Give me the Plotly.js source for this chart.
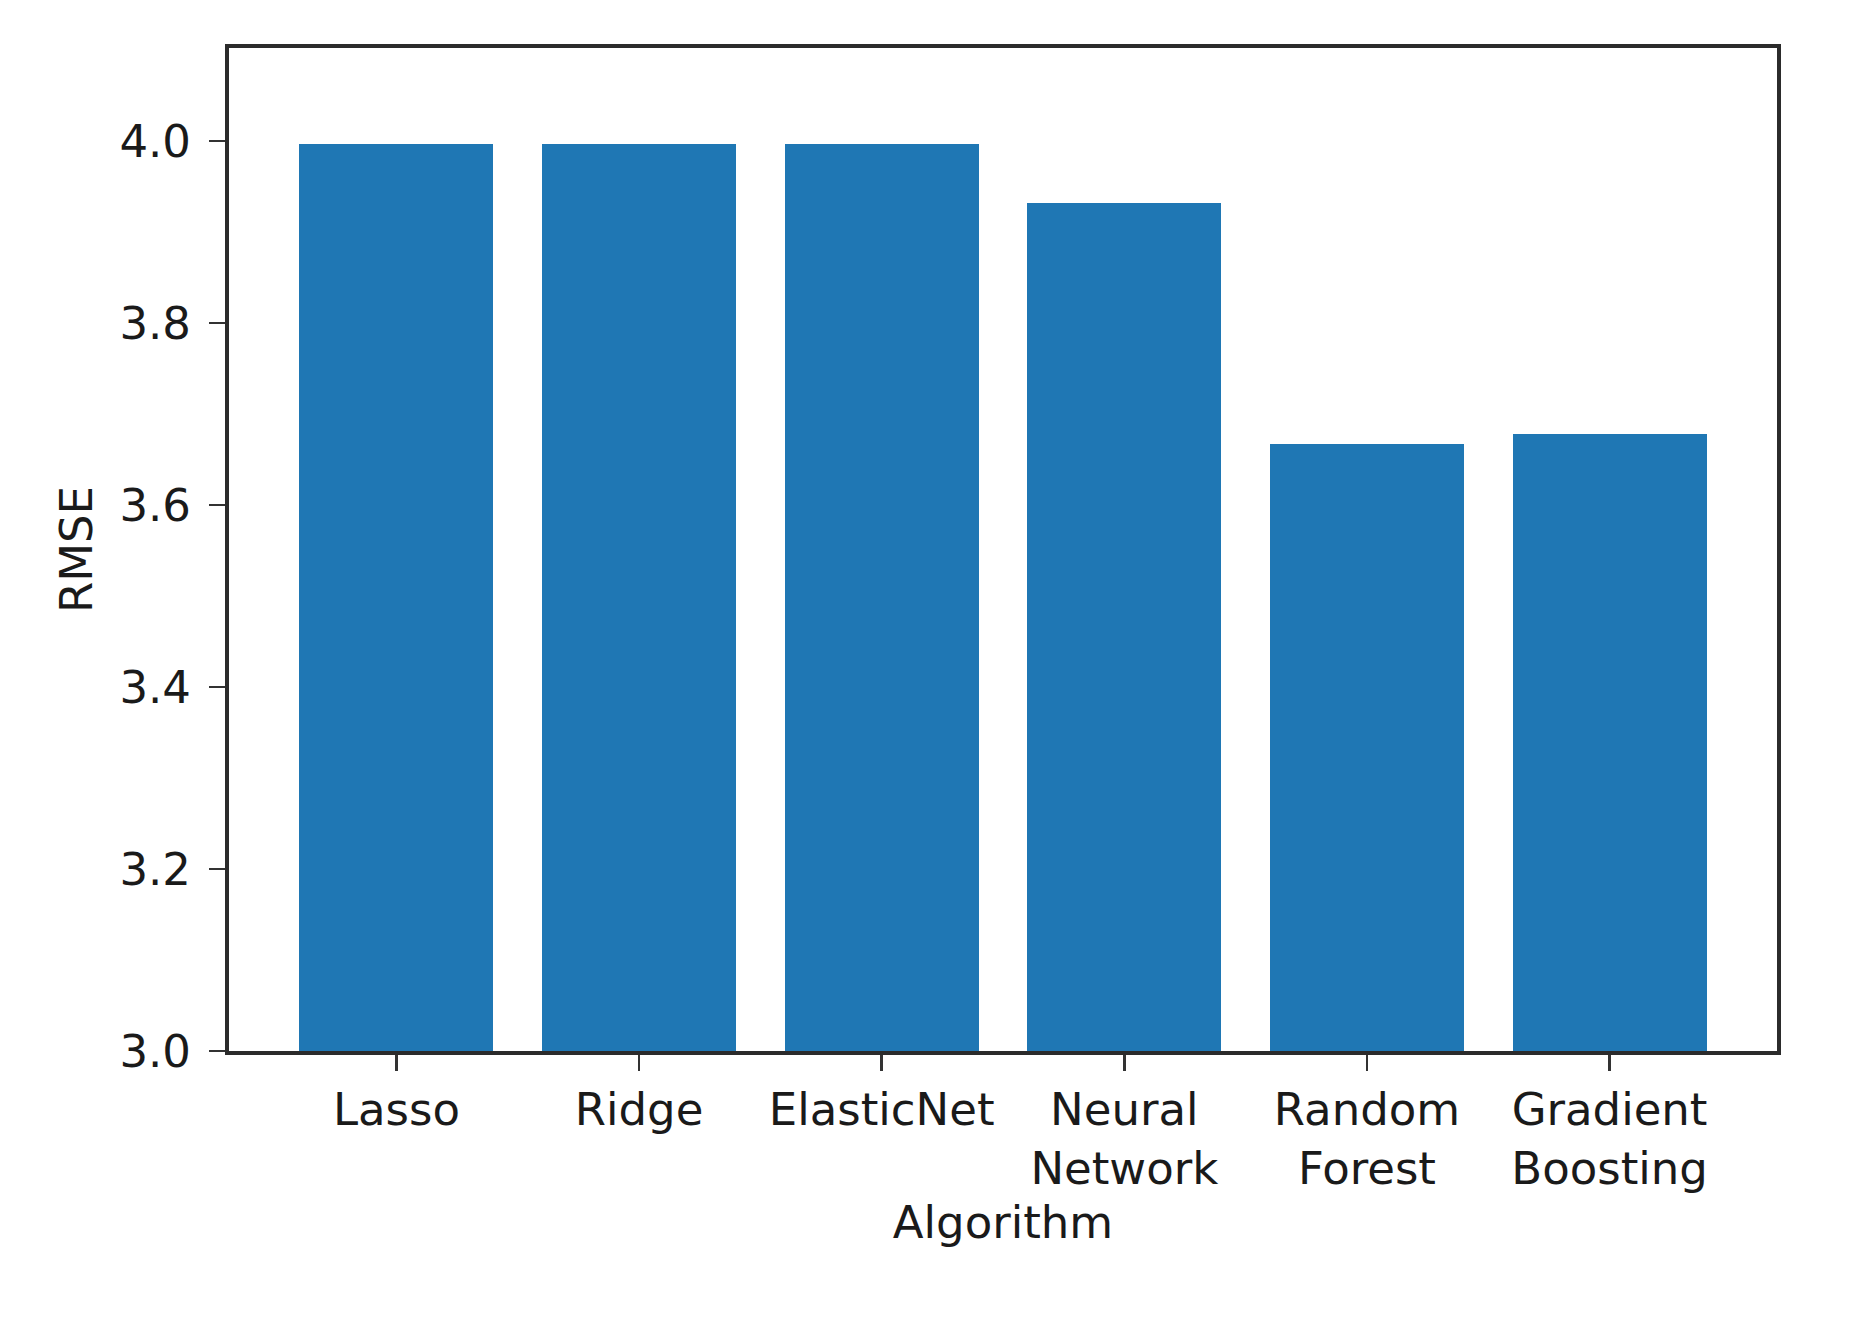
<!DOCTYPE html>
<html>
<head>
<meta charset="utf-8">
<script src="https://cdn.plot.ly/plotly-3.0.1.min.js"></script>
<style>html,body{margin:0;padding:0;background:#fff;}#chart{width:1860px;height:1338px;}</style>
</head>
<body>
<div id="chart"></div>
<script>
const algorithms = ["Lasso", "Ridge", "ElasticNet", "Neural<br>Network", "Random<br>Forest", "Gradient<br>Boosting"];
const rmse = [3.997, 3.997, 3.997, 3.932, 3.667, 3.678];
const yTicks = [3.0, 3.2, 3.4, 3.6, 3.8, 4.0];
const yTickLabels = ["3.0", "3.2", "3.4", "3.6", "3.8", "4.0"];

const xIdx = algorithms.map((_, i) => i);

const font = {family: "DejaVu Sans", size: 45, color: "#1a1a1a"};

Plotly.newPlot("chart", [{
  type: "bar",
  x: xIdx,
  y: rmse,
  width: 0.8,
  marker: {color: "#1f77b4", line: {width: 0}},
  hoverinfo: "skip"
}], {
  width: 1860,
  height: 1338,
  margin: {l: 229, r: 83, t: 48, b: 287},
  paper_bgcolor: "#ffffff",
  plot_bgcolor: "#ffffff",
  showlegend: false,
  font: font,
  bargap: 0,
  xaxis: {
    range: [-0.69, 5.69],
    tickmode: "array",
    tickvals: xIdx,
    ticktext: algorithms,
    ticks: "outside",
    ticklen: 16,
    tickwidth: 2.5,
    tickcolor: "#333333",
    showline: true,
    mirror: true,
    linecolor: "#2b2b2b",
    linewidth: 4,
    showgrid: false,
    zeroline: false,
    tickfont: font,
    title: {text: "Algorithm", font: font, standoff: 14}
  },
  yaxis: {
    range: [3.0, 4.102],
    tickmode: "array",
    tickvals: yTicks,
    ticktext: yTickLabels,
    ticks: "outside",
    ticklen: 16,
    tickwidth: 2.5,
    tickcolor: "#333333",
    ticklabelstandoff: 9,
    showline: true,
    mirror: true,
    linecolor: "#2b2b2b",
    linewidth: 4,
    showgrid: false,
    zeroline: false,
    tickfont: font,
    title: {text: "RMSE", font: font, standoff: 14}
  }
}, {staticPlot: true, displayModeBar: false});
</script>
</body>
</html>
